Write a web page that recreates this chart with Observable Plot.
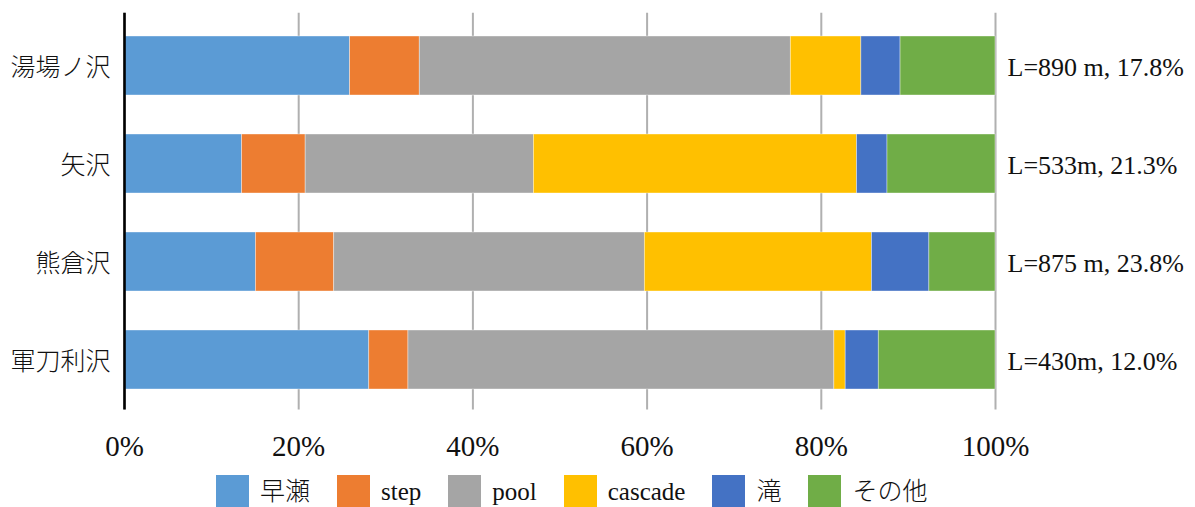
<!DOCTYPE html>
<html>
<head>
<meta charset="utf-8">
<script src="https://cdn.jsdelivr.net/npm/d3@7"></script>
<script src="https://cdn.jsdelivr.net/npm/@observablehq/plot@0.6"></script>
<style>
  html, body { margin: 0; padding: 0; background: #fff; }
  body { width: 1195px; height: 507px; overflow: hidden; font-family: "Liberation Serif", "Noto Sans CJK JP", serif; }
  #legend { display: flex; align-items: center; padding-left: 216px; margin-top: 10px; height: 33px; }
  .item { display: flex; align-items: center; margin-right: 27px; }
  .sw { width: 33px; height: 33px; margin-right: 11px; }
  .lb { font-size: 25px; color: #111; line-height: 33px; font-weight: 300; }
</style>
</head>
<body>
<div id="chart"></div>
<div id="legend"></div>
<script>
// Streams, top to bottom
const categories = ["湯場ノ沢", "矢沢", "熊倉沢", "軍刀利沢"];
// Reach length and share, printed at the right of each bar
const reachLabels = ["L=890 m, 17.8%", "L=533m, 21.3%", "L=875 m, 23.8%", "L=430m, 12.0%"];

// Channel unit types (stack order)
const unitTypes = ["早瀬", "step", "pool", "cascade", "滝", "その他"];
const unitColors = ["#5B9BD5", "#ED7D31", "#A5A5A5", "#FFC000", "#4472C4", "#70AD47"];

// Share of each unit type per stream (%), in category order
const hayase  = [25.9, 13.5, 15.1, 28.1];
const step    = [8.0, 7.3, 9.0, 4.5];
const pool    = [42.6, 26.2, 35.7, 48.9];
const cascade = [8.1, 37.1, 26.1, 1.3];
const taki    = [4.5, 3.5, 6.6, 3.8];
const other   = [10.9, 12.4, 7.6, 13.4];

const xTicks = [0, 0.2, 0.4, 0.6, 0.8, 1];

const seriesValues = [hayase, step, pool, cascade, taki, other];
const rows = [];
unitTypes.forEach((t, i) => {
  categories.forEach((c, j) => rows.push({stream: c, type: t, value: seriesValues[i][j]}));
});
const labelRows = categories.map((c, j) => ({stream: c, label: reachLabels[j]}));

const font = "'Liberation Serif', 'Noto Sans CJK JP', serif";

const chart = Plot.plot({
  width: 1195,
  height: 465,
  marginLeft: 124,
  marginRight: 200,
  marginTop: 16.6,
  marginBottom: 55.6,
  style: {fontFamily: font, background: "#fff", color: "#111"},
  x: {domain: [0, 1]},
  y: {domain: categories, paddingInner: 0.395, paddingOuter: 0.1975},
  color: {domain: unitTypes, range: unitColors},
  marks: [
    Plot.gridX(xTicks, {stroke: "#b0b0b0", strokeOpacity: 1, strokeWidth: 2, insetTop: -3.9}),
    Plot.barX(rows, Plot.stackX({
      x: "value", y: "stream", fill: "type", order: unitTypes, offset: "normalize",
      stroke: "#fff", strokeOpacity: 0.5, strokeWidth: 0.75
    })),
    Plot.ruleX([0], {stroke: "#000", strokeWidth: 2.6, insetTop: -3.9}),
    Plot.axisX(xTicks, {
      tickSize: 0, tickPadding: 26, fontSize: 29, tickFormat: d3.format(".0%"),
      fill: "#111", label: null
    }),
    Plot.axisY({
      tickSize: 0, tickPadding: 14, fontSize: 25, dy: 2, fontWeight: 300,
      fontFamily: "'Noto Sans CJK JP', sans-serif", fill: "#111", label: null
    }),
    Plot.text(labelRows, {
      x: () => 1, y: "stream", text: "label", textAnchor: "start",
      dx: 12, dy: 2, fontSize: 26, fill: "#111"
    })
  ]
});
document.getElementById("chart").appendChild(chart);

// Legend row under the chart
const legend = document.getElementById("legend");
unitTypes.forEach((t, i) => {
  const item = document.createElement("div");
  item.className = "item";
  const sw = document.createElement("div");
  sw.className = "sw";
  sw.style.background = unitColors[i];
  const lb = document.createElement("span");
  lb.className = "lb";
  lb.textContent = t;
  item.appendChild(sw);
  item.appendChild(lb);
  legend.appendChild(item);
});
</script>
</body>
</html>
